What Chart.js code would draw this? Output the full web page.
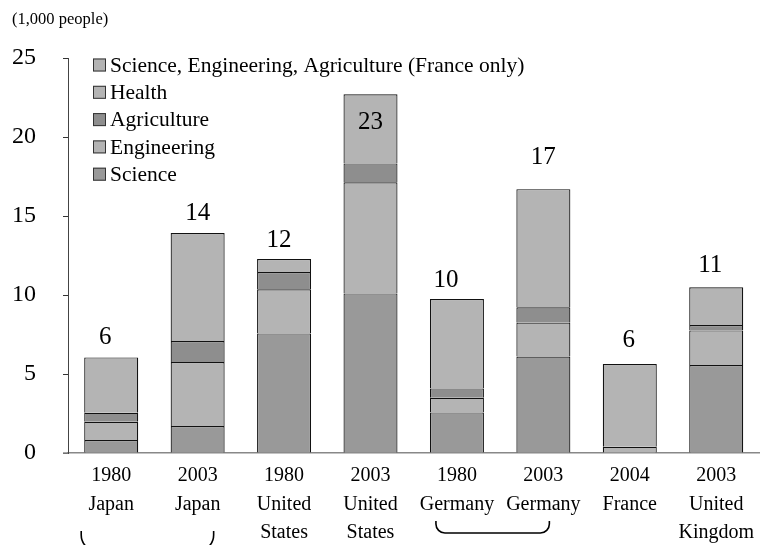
<!DOCTYPE html>
<html>
<head>
<meta charset="utf-8">
<title>Graduates chart</title>
<script src="https://cdn.jsdelivr.net/npm/chart.js@4/dist/chart.umd.min.js"></script>
<style>
  body { margin: 0; background: #fff; }
  canvas { display: block; }
</style>
</head>
<body>
<canvas id="grafiek" width="763" height="545"></canvas>
<script>
// categories (year + country, one line per array item)
var categories = [
  ["1980", "Japan"],
  ["2003", "Japan"],
  ["1980", "United", "States"],
  ["2003", "United", "States"],
  ["1980", "Germany"],
  ["2003", "Germany"],
  ["2004", "France"],
  ["2003", "United", "Kingdom"]
];

// series values (1,000 people)
var science     = [0.82, 1.71, 7.57, 10.1, 2.57, 6.1, null, 5.57];
var engineering = [1.16, 4.05, 2.79, 7.03, 0.93, 2.15, null, 2.19];
var agriculture = [0.57, 1.33, 1.1, 1.2, 0.59, 0.97, null, 0.34];
var health      = [3.5, 6.83, 0.82, 4.37, 5.66, 7.48, 0.4, 2.39];
var seaFrance   = [null, null, null, null, null, null, 5.23, null];

// rounded totals printed above the bars
var totalLabels = ["6", "14", "12", "23", "10", "17", "6", "11"];

// y axis ticks
var yTicks = [0, 5, 10, 15, 20, 25];

var serif = '"Liberation Serif", "Times New Roman", serif';

// label offsets (px) relative to the top of each bar
var labelDy = [20, 20, 19, -28, 19, 32, 24, 22];
var labelDx = [-6, 0, -5, 0, -11, 0, -1, -6];

function stapelTop(chart, i) {
  var som = 0;
  chart.data.datasets.forEach(function (ds) {
    if (ds.data[i] != null) som += ds.data[i];
  });
  return som;
}

var extraTekst = {
  id: 'extraTekst',
  afterDraw: function (chart) {
    var ctx = chart.ctx;
    var x = chart.scales.x;
    var y = chart.scales.y;
    ctx.save();

    // unit
    ctx.fillStyle = '#000';
    ctx.font = '16.5px ' + serif;
    ctx.textAlign = 'left';
    ctx.textBaseline = 'middle';
    ctx.fillText('(1,000 people)', 12, 20);

    // totals
    ctx.font = '25px ' + serif;
    ctx.textAlign = 'center';
    for (var i = 0; i < totalLabels.length; i++) {
      var px = x.getPixelForValue(i) + labelDx[i];
      var py = y.getPixelForValue(stapelTop(chart, i)) - labelDy[i];
      ctx.fillText(totalLabels[i], px, py);
    }

    // legend (reverse order, inside the plot)
    var sets = chart.data.datasets.slice().reverse();
    ctx.font = '21.5px ' + serif;
    ctx.textAlign = 'left';
    for (var j = 0; j < sets.length; j++) {
      var cy = 65 + j * 27.3;
      ctx.fillStyle = sets[j].backgroundColor;
      ctx.fillRect(93, cy - 6.5, 13, 13);
      ctx.strokeStyle = '#333';
      ctx.lineWidth = 1;
      ctx.strokeRect(93.5, cy - 6, 12, 12);
      ctx.fillStyle = '#000';
      ctx.fillText(sets[j].label, 110, cy + 1);
    }

    // brackets under Japan and Germany
    ctx.strokeStyle = '#000';
    ctx.lineWidth = 1.6;
    haak(ctx, x.getPixelForValue(0) - 30, x.getPixelForValue(1) + 16, y.bottom + 78, y.bottom + 98, 16);
    haak(ctx, x.getPixelForValue(4) - 21, x.getPixelForValue(5) + 6, y.bottom + 68, y.bottom + 80, 9);

    // x axis line runs a bit left of the y axis
    ctx.strokeStyle = '#888';
    ctx.lineWidth = 1.5;
    ctx.beginPath();
    ctx.moveTo(63, y.bottom);
    ctx.lineTo(x.left, y.bottom);
    ctx.stroke();
    ctx.restore();
  }
};

function haak(ctx, x1, x2, yTop, yBot, r) {
  ctx.beginPath();
  ctx.moveTo(x1, yTop);
  ctx.arcTo(x1, yBot, x1 + r, yBot, r);
  ctx.lineTo(x2 - r, yBot);
  ctx.arcTo(x2, yBot, x2, yTop, r);
  ctx.lineTo(x2, yTop);
  ctx.stroke();
}

function reeks(label, data, kleur) {
  return {
    label: label,
    data: data,
    backgroundColor: kleur,
    borderColor: '#111',
    borderWidth: 1.2,
    categoryPercentage: 1,
    barPercentage: 0.625
  };
}

new Chart(document.getElementById("grafiek"), {
  type: 'bar',
  data: {
    labels: categories,
    datasets: [
      reeks("Science", science, "#999999"),
      reeks("Engineering", engineering, "#b4b4b4"),
      reeks("Agriculture", agriculture, "#8e8e8e"),
      reeks("Health", health, "#b4b4b4"),
      reeks("Science, Engineering, Agriculture (France only)", seaFrance, "#b4b4b4")
    ]
  },
  options: {
    responsive: false,
    animation: false,
    layout: { padding: { top: 58, right: 0, left: 0, bottom: 0 } },
    plugins: {
      legend: { display: false },
      tooltip: { enabled: false }
    },
    scales: {
      x: {
        stacked: true,
        grid: { display: false, drawTicks: false },
        border: { display: true, color: '#888', width: 1.5 },
        ticks: {
          color: '#000',
          padding: 9,
          maxRotation: 0,
          autoSkip: false,
          font: { family: serif, size: 20, lineHeight: 1.42 }
        },
        afterFit: function (s) { s.height = 92; }
      },
      y: {
        stacked: true,
        min: 0,
        max: 25,
        afterBuildTicks: function (s) {
          s.ticks = yTicks.map(function (v) { return { value: v }; });
        },
        grid: { drawOnChartArea: false, drawTicks: true, tickLength: 5, color: '#333' },
        border: { display: true, color: '#444', width: 1 },
        ticks: {
          color: '#000',
          padding: 27,
          font: { family: serif, size: 24 }
        },
        afterFit: function (s) { s.width = 68; }
      }
    }
  },
  plugins: [extraTekst]
});
</script>
</body>
</html>
